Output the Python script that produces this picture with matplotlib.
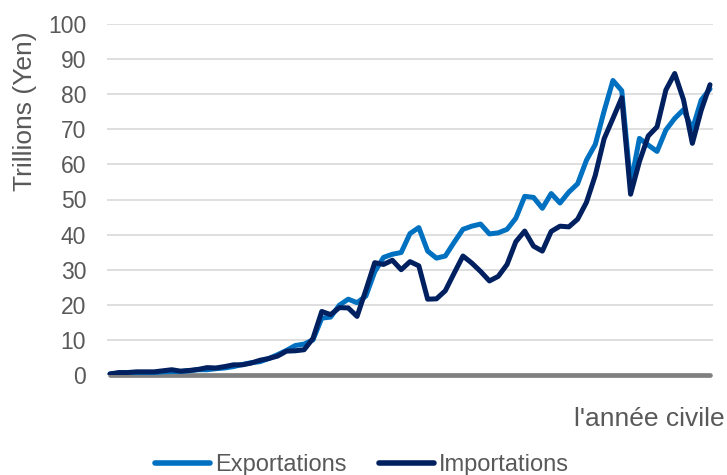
import numpy as np
import matplotlib
matplotlib.use("Agg")
import matplotlib.pyplot as plt

# trillions of yen, calendar years 1950-2018
years = list(range(1950, 2019))
exports = [0.3, 0.5, 0.5, 0.5, 0.6, 0.7, 0.9, 1.0, 1.0, 1.2,
           1.5, 1.5, 1.8, 2.0, 2.4, 3.0, 3.5, 3.8, 4.7, 5.8,
           7.0, 8.4, 8.8, 10.0, 16.2, 16.5, 19.9, 21.6, 20.6, 22.5,
           29.4, 33.5, 34.4, 34.9, 40.3, 42.0, 35.3, 33.3, 33.9, 37.8,
           41.5, 42.4, 43.0, 40.2, 40.5, 41.5, 44.7, 50.9, 50.6, 47.5,
           51.7, 49.0, 52.1, 54.5, 61.2, 65.7, 75.2, 83.9, 81.0, 54.2,
           67.4, 65.5, 63.7, 69.8, 73.1, 75.6, 70.0, 78.3, 81.5]
imports = [0.3, 0.7, 0.7, 0.9, 0.9, 0.9, 1.2, 1.5, 1.1, 1.3,
           1.6, 2.1, 2.0, 2.4, 2.9, 2.9, 3.4, 4.2, 4.7, 5.4,
           6.8, 6.9, 7.2, 10.4, 18.1, 17.2, 19.2, 19.1, 16.7, 24.2,
           32.0, 31.5, 32.7, 30.0, 32.3, 31.1, 21.6, 21.7, 24.0, 29.0,
           33.9, 31.9, 29.5, 26.8, 28.1, 31.5, 38.0, 41.0, 36.7, 35.3,
           40.9, 42.4, 42.2, 44.4, 49.2, 56.9, 67.3, 73.1, 79.0, 51.5,
           60.8, 68.1, 70.7, 81.2, 85.9, 78.4, 66.0, 75.4, 82.7]
yticks = list(range(0, 101, 10))

plt.rcParams['font.family'] = ['Liberation Sans', 'DejaVu Sans']
text_col = '#595959'

fig = plt.figure(figsize=(7.27, 4.75), dpi=100)
ax = fig.add_axes([107 / 727, 1 - 375 / 475, 606 / 727, 351 / 475])

ax.plot(years, exports, color='#0070C0', lw=3.6, solid_capstyle='round',
        solid_joinstyle='round', label='Exportations', zorder=3)
ax.plot(years, imports, color='#002060', lw=3.6, solid_capstyle='round',
        solid_joinstyle='round', label='Importations', zorder=4)

ax.set_xlim(1949.66, 2018.34)
ax.set_ylim(0, 100)
ax.set_yticks(yticks)
ax.set_xticks([])
ax.tick_params(axis='y', length=0, pad=15, labelsize=16.5, labelcolor=text_col)
for y in yticks[1:]:
    ax.axhline(y, color='#D9D9D9', lw=1.2, zorder=1)
ax.plot([1950, 2018], [0, 0], color='#808080', lw=3.4,
        solid_capstyle='round', zorder=2, clip_on=False)
for s in ax.spines.values():
    s.set_visible(False)

fig.text(25 / 727, 1 - 111 / 475, 'Trillions (Yen)', rotation=90,
         ha='center', va='center', fontsize=19, color=text_col)
fig.text(725 / 727, 1 - 419 / 475, "l'année civile", ha='right',
         va='center', fontsize=19, color=text_col)

leg = fig.legend(loc='center', bbox_to_anchor=(362 / 727, 1 - 465 / 475),
                 ncol=2, frameon=False, fontsize=17, handlelength=2.33,
                 handletextpad=0.21, columnspacing=1.4)
for t in leg.get_texts():
    t.set_color(text_col)
for h in leg.get_lines():
    h.set_linewidth(4)
    h.set_solid_capstyle('round')

fig.savefig('out.png', dpi=100)
